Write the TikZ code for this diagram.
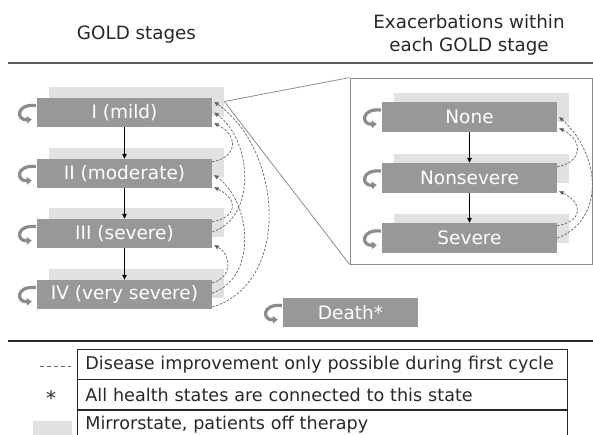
\documentclass[tikz,border=0pt]{standalone}
\usepackage{fontspec}
\setmainfont{DejaVu Sans}
\usetikzlibrary{arrows.meta,calc}
\definecolor{boxdark}{RGB}{152,152,154}
\definecolor{boxlight}{RGB}{225,225,227}
\definecolor{dashc}{RGB}{100,100,100}
\definecolor{txtc}{RGB}{40,40,40}
\definecolor{loopc}{RGB}{140,140,142}
\definecolor{zoomc}{RGB}{140,140,140}
\begin{document}
\begin{tikzpicture}[x=1pt,y=-1pt,
  stage/.style={fill=boxdark, text=white, minimum width=175pt, minimum height=29pt, inner sep=0pt, font=\fontsize{18.5}{20}\selectfont},
  mirror/.style={fill=boxlight, minimum width=175pt, minimum height=29pt, inner sep=0pt},
  downarr/.style={-{Triangle[length=5pt,width=4.5pt]}, line width=0.9pt, black},
  back/.style={dashc, dash pattern=on 2.5pt off 1.5pt, line width=0.7pt, -{Triangle[length=4.5pt,width=4pt]}},
  title/.style={text=txtc, font=\fontsize{18.3}{23}\selectfont, align=center},
  legrow/.style={draw=txtc, line width=0.8pt, text=txtc, text width=474pt, inner xsep=8pt, minimum height=29.5pt, inner ysep=0pt, align=left, anchor=north west, font=\fontsize{17.6}{20}\selectfont},
  zoomline/.style={zoomc, line width=0.8pt},
  loopic/.pic={\draw[loopc, line width=3.2pt, -{Triangle[length=5pt,width=7.5pt]}] (-1,-7) .. controls (-21,-9) and (-21,8) .. (-5,7);}
]
\clip (0,0) rectangle (593,434);
\useasboundingbox (0,0) rectangle (593,434);

% titles and rules
\node[title] (t1) at (136.5,35) {GOLD stages};
\node[title] (t2) at (469,34.5) {Exacerbations within\\each GOLD stage};
\draw[gray!70!black, line width=1.4pt] (8,63) -- (593,63);

% left: GOLD stages
\node[mirror] (l1) at (136.5,101.5) {};
\node[mirror] (l2) at (136.5,162.5) {};
\node[mirror] (l3) at (136.5,222.5) {};
\node[mirror] (l4) at (136.5,283.5) {};
\node[stage] (s1) at (124.5,112.5) {I (mild)};
\node[stage] (s2) at (124.5,173.5) {II (moderate)};
\node[stage] (s3) at (124.5,233.5) {III (severe)};
\node[stage] (s4) at (124.5,294.5) {IV (very severe)};
\pic at (s1.west) {loopic};
\pic at (s2.west) {loopic};
\pic at (s3.west) {loopic};
\pic at (s4.west) {loopic};
\draw[downarr] (s1) -- (s2);
\draw[downarr] (s2) -- (s3);
\draw[downarr] (s3) -- (s4);

% left back arrows
\draw[back] ([yshift=-3pt]s2.north east) .. controls +(26,-5) and +(24,12) .. ([xshift=2pt,yshift=4pt]s1.south east);
\draw[back] ([yshift=-3pt]s3.north east) .. controls +(26,-5) and +(24,12) .. ([xshift=2pt,yshift=1pt]s2.south east);
\draw[back] ([yshift=-3pt]s4.north east) .. controls +(20,-5) and +(18,10) .. ([xshift=2pt,yshift=3pt]s3.south east);
\draw[back] ([yshift=1.5pt]s3.east) .. controls +(45,-15) and +(38,28) .. ([xshift=2pt]s1.east);
\draw[back] ([yshift=1.5pt]s4.east) .. controls +(45,-15) and +(38,28) .. ([xshift=2pt,yshift=-1.5pt]s2.east);
\draw[back] ([yshift=2pt]s4.south east) .. controls +(80,-25) and +(68,48) .. ([xshift=2pt,yshift=-4pt]s1.north east);

% right panel
\node[draw=zoomc, line width=0.8pt, minimum width=242pt, minimum height=186pt, inner sep=0pt] (panel) at (471,171) {};
\draw[zoomline] (l1.east) -- (panel.north west);
\draw[zoomline] (l1.east) -- (panel.south west);
\node[mirror] (m1) at (481.5,107) {};
\node[mirror] (m2) at (481.5,168) {};
\node[mirror] (m3) at (481.5,228) {};
\node[stage, minimum height=30pt] (n1) at (469.5,117) {None};
\node[stage, minimum height=30pt] (n2) at (469.5,178) {Nonsevere};
\node[stage, minimum height=30pt] (n3) at (469.5,238) {Severe};
\pic at (n1.west) {loopic};
\pic at (n2.west) {loopic};
\pic at (n3.west) {loopic};
\draw[downarr] (n1) -- (n2);
\draw[downarr] (n2) -- (n3);
\draw[back] ([yshift=-4pt]n2.north east) .. controls +(26,-5) and +(24,12) .. ([xshift=2pt,yshift=4pt]n1.south east);
\draw[back] ([yshift=-3pt]n3.north east) .. controls +(26,-5) and +(24,12) .. ([xshift=2pt,yshift=2pt]n2.south east);
\draw[back] (n3.east) .. controls +(48,-18) and +(42,38) .. ([xshift=2pt]n1.east);

% death
\node[stage, minimum width=135pt] (death) at (350.5,312.5) {Death*};
\pic at (death.west) {loopic};

% legend
\draw[txtc, line width=1.2pt] (8,341) -- (593,341);
\node[legrow] (r1) at (77,349) {Disease improvement only possible during first cycle};
\node[legrow] (r2) at (r1.south west) {All health states are connected to this state};
\node[legrow] (r3) at (r2.south west) {Mirrorstate, patients off therapy};
\coordinate (d1) at (40,366);
\coordinate (d2) at (71,366);
\draw[dashc, dash pattern=on 4pt off 3pt, line width=0.9pt] (d1) -- (d2);
\node[text=txtc, font=\fontsize{20}{20}\selectfont, inner sep=0pt] (star) at (51,398) {*};
\node[fill=boxlight, minimum width=39pt, minimum height=16pt, inner sep=0pt, anchor=north west] (sw) at (33,421) {};
\end{tikzpicture}
\end{document}
